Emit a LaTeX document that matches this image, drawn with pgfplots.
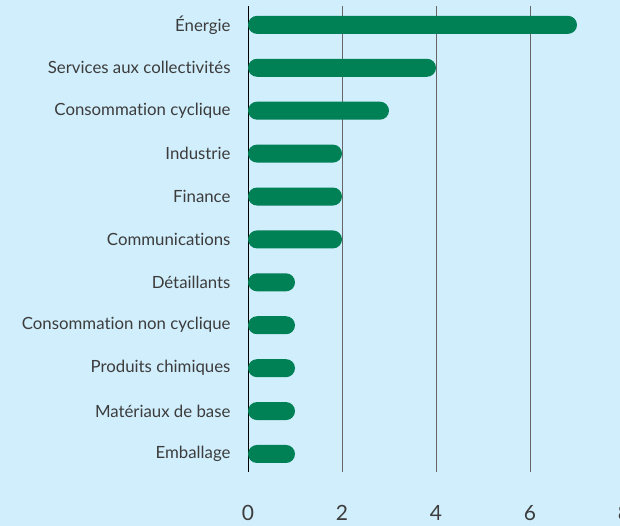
\documentclass[border=0pt]{standalone}
\usepackage{pgfplots}
\pgfplotsset{compat=1.18}
\usepackage{fontspec}
\setmainfont{Lato}[Ligatures={NoCommon}]
\definecolor{bgblue}{HTML}{D1EEFC}
\definecolor{bargreen}{HTML}{008055}
\definecolor{txtgray}{HTML}{3C3C3C}
\definecolor{gridgray}{HTML}{666666}
\begin{document}
\begin{tikzpicture}[x=1pt,y=1pt]
\fill[bgblue] (0,0) rectangle (620,526);
\path[use as bounding box] (0,0) rectangle (620,526);
\begin{axis}[
  at={(248pt,54pt)}, anchor=south west,
  scale only axis,
  width=376pt, height=466pt,
  xmin=0, xmax=8, ymin=-0.42, ymax=10.44,
  xbar, bar width=18pt,
  axis line style={draw=none},
  major tick length=0pt,
  xtick={0,2,4,6,8},
  xmajorgrids, grid style={gridgray, line width=0.9pt},
  extra x ticks={0}, extra x tick labels={},
  extra x tick style={grid style={black, line width=0.9pt}},
  ytick={0,...,10},
  yticklabels={Emballage, Matériaux de base, Produits chimiques, Consommation non cyclique, Détaillants, Communications, Finance, Industrie, Consommation cyclique, Services aux collectivités, Énergie},
  yticklabel style={font=\fontsize{16.8}{19}\selectfont, text=txtgray, xshift=-14pt},
  xticklabel style={font=\fontsize{21}{24}\selectfont, text=txtgray, yshift=-30pt},
  /pgf/number format/assume math mode=true,
  clip=false,
]
\addplot[draw=none, fill=bargreen, rounded corners=9pt] coordinates {
  (1,0) (1,1) (1,2) (1,3) (1,4) (2,5) (2,6) (2,7) (3,8) (4,9) (7,10)
};
\end{axis}
\end{tikzpicture}
\end{document}
